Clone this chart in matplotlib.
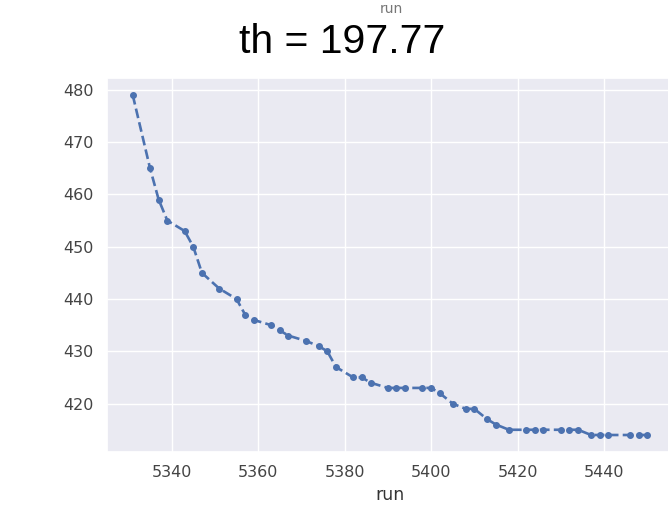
import matplotlib
matplotlib.use("Agg")
import matplotlib.pyplot as plt
import seaborn as sns

runs = [5331, 5335, 5337, 5339, 5343, 5345, 5347, 5351, 5355, 5357,
        5359, 5363, 5365, 5367, 5371, 5374, 5376, 5378, 5382, 5384,
        5386, 5390, 5392, 5394, 5398, 5400, 5402, 5405, 5408, 5410,
        5413, 5415, 5418, 5422, 5424, 5426, 5430, 5432, 5434, 5437,
        5439, 5441, 5446, 5448, 5450]
values = [479, 465, 459, 455, 453, 450, 445, 442, 440, 437,
          436, 435, 434, 433, 432, 431, 430, 427, 425, 425,
          424, 423, 423, 423, 423, 423, 422, 420, 419, 419,
          417, 416, 415, 415, 415, 415, 415, 415, 415, 414,
          414, 414, 414, 414, 414]
title_text = "th = 197.77"
xlabel_text = "run"

sns.set_theme(style="darkgrid")

fig = plt.figure(figsize=(6.68, 5.08), dpi=100)
W, H = 668, 508
left, right, top, bottom = 107, 673, 78, 452
ax = fig.add_axes([left / W, 1 - bottom / H, (right - left) / W, (bottom - top) / H])

ax.plot(runs, values, linestyle="--", marker=".", color="#4c72b0",
        linewidth=1.9, markersize=8)

ax.set_yticks([420, 430, 440, 450, 460, 470, 480])
ax.set_xticks([5340, 5360, 5380, 5400, 5420, 5440])
ax.tick_params(axis="both", labelsize=11.5, labelcolor="#444444")
ax.set_xlabel(xlabel_text, fontsize=12.5, color="#333333", labelpad=4)

fig.text(342 / W, 1 - 42 / H, title_text, ha="center", va="center",
         fontsize=29.5, family="Liberation Sans", color="black")
fig.text(391 / W, 1 - 2 / H, xlabel_text, ha="center", va="top",
         fontsize=10, color="#777777")

fig.savefig("out.png", dpi=100)
